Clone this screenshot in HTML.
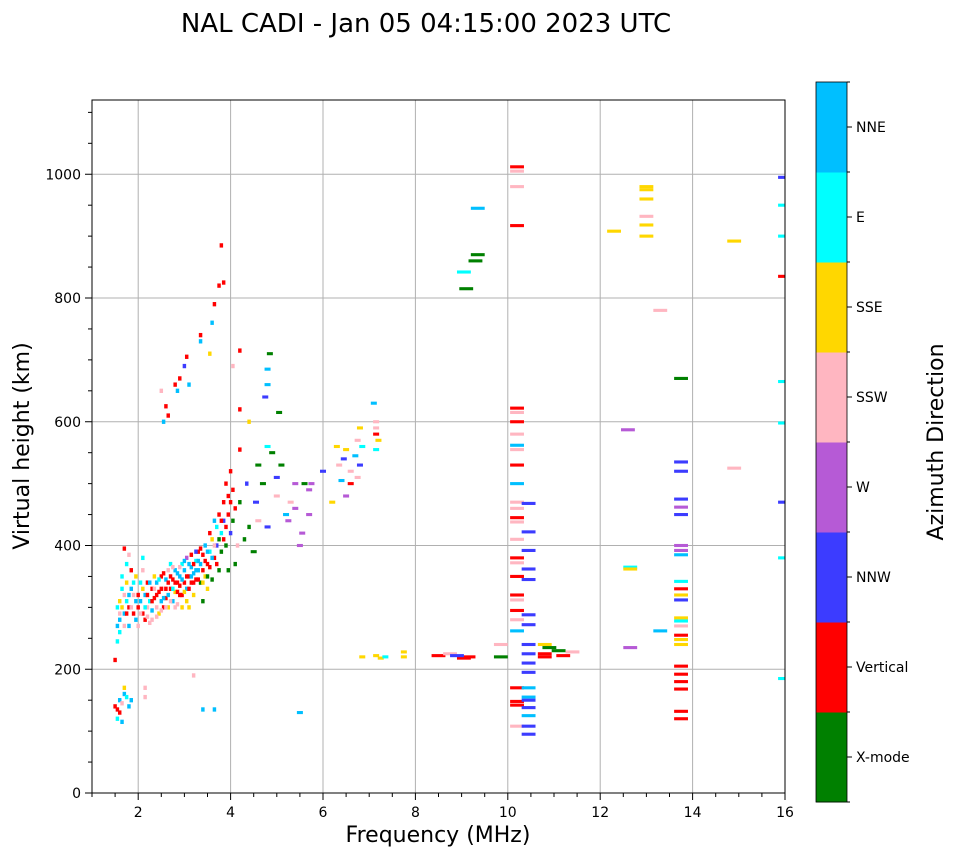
<!DOCTYPE html>
<html><head><meta charset="utf-8"><style>
body{margin:0;background:#fff;font-family:"Liberation Sans","DejaVu Sans",sans-serif}
svg text{font-family:"DejaVu Sans","Liberation Sans",sans-serif}
</style></head><body>
<svg id="c" width="958" height="857" xmlns="http://www.w3.org/2000/svg"><defs><clipPath id="pc"><rect x="92" y="100" width="693" height="693"/></clipPath></defs></svg>
<script>
const dirNames=["X-mode","Vertical","NNW","W","SSW","SSE","E","NNE"];
const dirColors=["#008000","#ff0000","#3c3cff","#b65ad6","#ffb6c1","#ffd700","#00ffff","#00bfff"];
const xTicks=[2,4,6,8,10,12,14,16];
const yTicks=[0,200,400,600,800,1000];
const pts=[
[1.5,140,1],[1.55,135,1],[1.6,150,7],[1.65,145,4],[1.7,160,7],[1.75,155,6],[1.8,140,7],[1.6,130,1],[1.7,170,5],[1.55,120,6],[1.85,150,7],[1.65,115,7],
[1.5,215,1],[1.55,245,6],[1.6,260,6],[1.6,280,7],[1.65,300,5],[1.7,290,7],[1.7,320,4],[1.75,310,6],[1.75,340,5],[1.8,300,1],[1.8,270,7],[1.85,330,7],[1.85,360,1],[1.7,395,1],[1.75,370,6],[1.8,385,4],[1.65,350,6],[1.6,310,5],[1.9,290,1],[1.9,320,4],[1.95,280,7],[1.95,350,5],[2.0,300,1],[2.0,270,4],[2.05,310,7],[2.05,340,6],[2.1,290,1],[2.1,360,4],[2.1,380,6],[2.15,320,7],[2.15,280,1],[2.2,300,4],[2.2,340,1],[2.25,310,6],[2.25,275,4],[2.3,330,1],[2.3,295,7],[2.35,350,5],[2.35,315,1],[2.4,300,4],[2.4,340,7],[2.45,325,1],[2.45,290,5],[2.5,310,7],[2.5,350,1],[2.55,330,4],[2.55,300,1],[2.6,345,7],[2.6,315,1],[2.65,360,4],[2.65,300,5],[2.7,330,1],[2.7,370,6],[2.75,310,7],[2.75,345,1],[2.8,325,5],[2.8,360,7],[2.85,340,1],[2.85,305,4],[2.9,350,7],[2.9,320,1],[2.95,370,6],[2.95,300,5],[3.0,340,1],[3.0,360,7],[3.05,330,7],[3.05,380,3],[3.1,350,1],[3.1,300,5],[3.15,365,7],[3.15,340,1],[3.2,355,7],[3.2,320,5],[3.25,375,6],[3.25,345,1],[3.3,360,7],[3.3,390,1],[3.35,340,0],[3.35,370,7],[3.4,310,0],[3.4,385,1],[3.45,350,5],[3.45,400,7],[3.5,330,5],[3.5,370,1],[3.55,420,1],[3.55,390,6],[3.6,345,0],[3.6,410,5],[3.65,440,7],[3.65,380,1],[3.7,400,2],[3.7,430,6],[3.75,360,0],[3.75,450,1],[3.8,420,6],[3.8,390,0],[3.85,470,1],[3.85,440,2],[3.9,400,0],[3.9,500,1],[3.95,480,1],[3.95,360,0],[4.0,520,1],[4.0,420,2],[4.05,440,0],[4.05,490,1],[4.1,370,0],[4.1,460,1],[4.15,400,4],[4.2,555,1],[4.2,470,0],[4.3,410,0],[4.35,500,2],[4.4,430,0],[4.5,390,0],[4.55,470,2],[4.6,530,0],[4.6,440,4],[4.7,500,0],[4.8,560,6],[4.8,430,2],[4.85,710,0],[4.8,660,7],[4.9,550,0],[5.0,510,2],[5.0,480,4],[5.05,615,0],[5.1,530,0],[5.2,450,7],[5.25,440,3],[5.3,470,4],[5.4,460,3],[5.4,500,3],[5.5,400,3],[5.55,420,3],[5.6,500,0],[5.7,450,3],[5.7,490,3],[5.75,500,3],[5.5,130,7],
[2.0,320,1],[2.05,290,4],[2.1,330,5],[2.15,300,6],[2.2,320,1],[2.2,285,4],[2.25,340,7],[2.3,310,1],[2.3,280,4],[2.35,330,4],[2.4,320,1],[2.4,285,4],[2.45,345,6],[2.5,330,1],[2.5,295,4],[2.55,315,7],[2.55,355,1],[2.6,330,1],[2.6,300,4],[2.65,340,1],[2.65,320,7],[2.7,350,1],[2.7,310,4],[2.75,330,6],[2.75,365,4],[2.8,340,1],[2.8,300,4],[2.85,355,7],[2.85,325,1],[2.9,335,1],[2.9,365,4],[2.95,345,7],[2.95,320,1],[3.0,325,5],[3.0,375,7],[3.05,350,1],[3.05,310,5],[3.1,370,7],[3.1,330,1],[3.15,385,1],[3.15,350,7],[3.2,340,1],[3.2,370,1],[3.25,360,7],[3.25,390,2],[3.3,345,1],[3.3,375,7],[3.35,395,1],[3.4,360,1],[3.4,340,5],[3.45,375,1],[3.5,390,7],[3.5,350,0],[3.55,365,1],[3.6,380,7],[3.65,400,4],[3.7,370,1],[3.75,410,0],[3.8,440,1],[3.85,410,1],[3.9,430,1],[3.95,450,1],[4.0,470,1],[1.95,310,7],[1.9,340,6],[1.85,300,4],[1.8,320,7],[1.75,290,1],[1.7,270,4],[1.65,330,6],[1.6,290,4],[1.55,300,6],[1.55,270,7],
[2.5,650,4],[2.6,625,1],[2.65,610,1],[2.55,600,7],[2.8,660,1],[2.85,650,7],[2.9,670,1],[3.0,690,2],[3.05,705,1],[3.1,660,7],[3.35,740,1],[3.35,730,7],[3.55,710,5],[3.6,760,7],[3.65,790,1],[3.75,820,1],[3.8,885,1],[3.85,825,1],[4.05,690,4],[4.2,715,1],[4.2,620,1],[4.4,600,5],[4.75,640,2],[4.8,685,7],[3.4,135,7],[3.65,135,7],[2.15,170,4],[2.15,155,4],[3.2,190,4],
[6.0,520,2],[6.2,470,5],[6.3,560,5],[6.35,530,4],[6.4,505,7],[6.45,540,2],[6.5,480,3],[6.5,555,5],[6.6,520,4],[6.6,500,1],[6.7,545,7],[6.75,570,4],[6.8,590,5],[6.8,530,2],[6.85,560,6],[6.75,510,4],[7.1,630,7],[7.15,600,4],[7.15,580,1],[7.2,570,5],[7.15,555,6],[7.15,590,4],
[6.85,220,5],[7.15,222,5],[7.25,218,5],[7.35,220,6],[7.75,228,5],[7.75,220,5],[8.5,222,1],[8.75,225,4],[9.05,218,1],[9.15,220,1],[8.9,222,2],
[9.3,860,0],[9.35,870,0],[9.1,815,0],[9.05,842,6],[9.35,945,7],[9.85,220,0],[9.85,240,4],
[10.2,1012,1],[10.2,1005,4],[10.2,980,4],[10.2,917,1],[10.2,622,1],[10.2,615,4],[10.2,600,1],[10.2,580,4],[10.2,562,7],[10.2,555,4],[10.2,530,1],[10.2,500,7],[10.2,470,4],[10.2,460,4],[10.2,445,1],[10.2,438,4],[10.2,410,4],[10.2,380,1],[10.2,372,4],[10.2,350,1],[10.2,320,1],[10.2,312,4],[10.2,295,1],[10.2,280,4],[10.2,262,7],[10.2,170,1],[10.2,148,1],[10.2,142,1],[10.2,108,4],
[10.45,468,2],[10.45,422,2],[10.45,392,2],[10.45,362,2],[10.45,345,2],[10.45,288,2],[10.45,272,2],[10.45,240,2],[10.45,225,2],[10.45,210,2],[10.45,195,2],[10.45,170,7],[10.45,155,7],[10.45,150,2],[10.45,138,2],[10.45,125,7],[10.45,108,2],[10.45,95,2],[10.8,240,5],[10.8,225,1],[10.8,220,1],[10.9,235,0],[11.1,230,0],[11.2,222,1],[11.4,228,4],
[12.3,908,5],[12.6,587,3],[12.65,365,6],[12.65,362,5],[12.65,235,3],[13.0,980,5],[13.0,975,5],[13.0,960,5],[13.0,932,4],[13.0,918,5],[13.0,900,5],[13.3,780,4],[13.3,262,7],
[13.75,670,0],[13.75,535,2],[13.75,520,2],[13.75,475,2],[13.75,462,3],[13.75,450,2],[13.75,400,3],[13.75,392,3],[13.75,385,7],[13.75,342,6],[13.75,330,1],[13.75,320,5],[13.75,312,2],[13.75,283,5],[13.75,278,6],[13.75,270,4],[13.75,255,1],[13.75,248,5],[13.75,240,5],[13.75,205,1],[13.75,192,1],[13.75,180,1],[13.75,168,1],[13.75,132,1],[13.75,120,1],
[14.9,892,5],[14.9,525,4],[16.0,995,2],[16.0,950,6],[16.0,900,6],[16.0,835,1],[16.0,665,6],[16.0,598,6],[16.0,470,2],[16.0,380,6],[16.0,185,6]
];
const NS="http://www.w3.org/2000/svg",svg=document.getElementById('c');
const L=92,R=785,T=100,B=793,x0=1,x1=16,y0=0,y1=1120;
const X=v=>L+(v-x0)/(x1-x0)*(R-L), Y=v=>B-(v-y0)/(y1-y0)*(B-T);
function mk(t,a,txt,par){const e=document.createElementNS(NS,t);for(const k in a)e.setAttribute(k,a[k]);if(txt!=null)e.textContent=txt;(par||svg).appendChild(e);return e;}
let e;
e=mk('text',{x:426,y:32,'font-size':26,'text-anchor':'middle'},'NAL CADI - Jan 05 04:15:00 2023 UTC');


xTicks.forEach(v=>{e=mk('line',{x1:X(v),x2:X(v),y1:T,y2:B,stroke:'#b0b0b0','stroke-width':1});

});
yTicks.forEach(v=>{e=mk('line',{x1:L,x2:R,y1:Y(v),y2:Y(v),stroke:'#b0b0b0','stroke-width':1});

});
const g=mk('g',{'clip-path':'url(#pc)'});


pts.forEach(p=>{const f=p[0],h=p[1],d=p[2];const w=f<4.5?0.075:(f<8?0.13:0.3);const hh=f<4.5?7:5;
e=mk('rect',{x:X(f-w/2),y:Y(h+hh/2),width:X(w)-X(0),height:Y(0)-Y(hh),fill:dirColors[d]},null,g);

});
e=mk('rect',{x:L,y:T,width:R-L,height:B-T,fill:'none',stroke:'#000','stroke-width':1});


for(let v=1;v<=16;v+=0.5){const maj=xTicks.includes(v);mk('line',{x1:X(v),x2:X(v),y1:B,y2:B+(maj?7:4),stroke:'#000'});}
for(let v=0;v<=1100;v+=50){const maj=yTicks.includes(v);mk('line',{x1:L,x2:L-(maj?7:4),y1:Y(v),y2:Y(v),stroke:'#000'});}
xTicks.forEach(v=>{e=mk('text',{x:X(v),y:B+24,'font-size':14,'text-anchor':'middle'},String(v));

});
yTicks.forEach(v=>{e=mk('text',{x:L-11,y:Y(v)+5,'font-size':14,'text-anchor':'end'},String(v));

});
e=mk('text',{x:438,y:842,'font-size':22,'text-anchor':'middle'},'Frequency (MHz)');


e=mk('text',{x:0,y:0,'font-size':22,'text-anchor':'middle',transform:'translate(29,446) rotate(-90)'},'Virtual height (km)');


const cbT=82,cbB=802,cbL=816,cbW=31,seg=(cbB-cbT)/8;
dirColors.forEach((c,i)=>{const yy=cbB-(i+1)*seg;
e=mk('rect',{x:cbL,y:yy,width:cbW,height:seg+0.5,fill:c});


mk('line',{x1:cbL+cbW,x2:cbL+cbW+5,y1:yy+seg/2,y2:yy+seg/2,stroke:'#000'});
e=mk('text',{x:856,y:yy+seg/2+5,'font-size':14},dirNames[i]);

});
for(let i=0;i<=8;i++)mk('line',{x1:cbL+cbW,x2:cbL+cbW+3,y1:cbT+i*seg,y2:cbT+i*seg,stroke:'#000'});
mk('rect',{x:cbL,y:cbT,width:cbW,height:cbB-cbT,fill:'none',stroke:'#000','stroke-width':0.8});
e=mk('text',{x:0,y:0,'font-size':22,'text-anchor':'middle',transform:'translate(943,442) rotate(-90)'},'Azimuth Direction');


</script>
</body></html>
